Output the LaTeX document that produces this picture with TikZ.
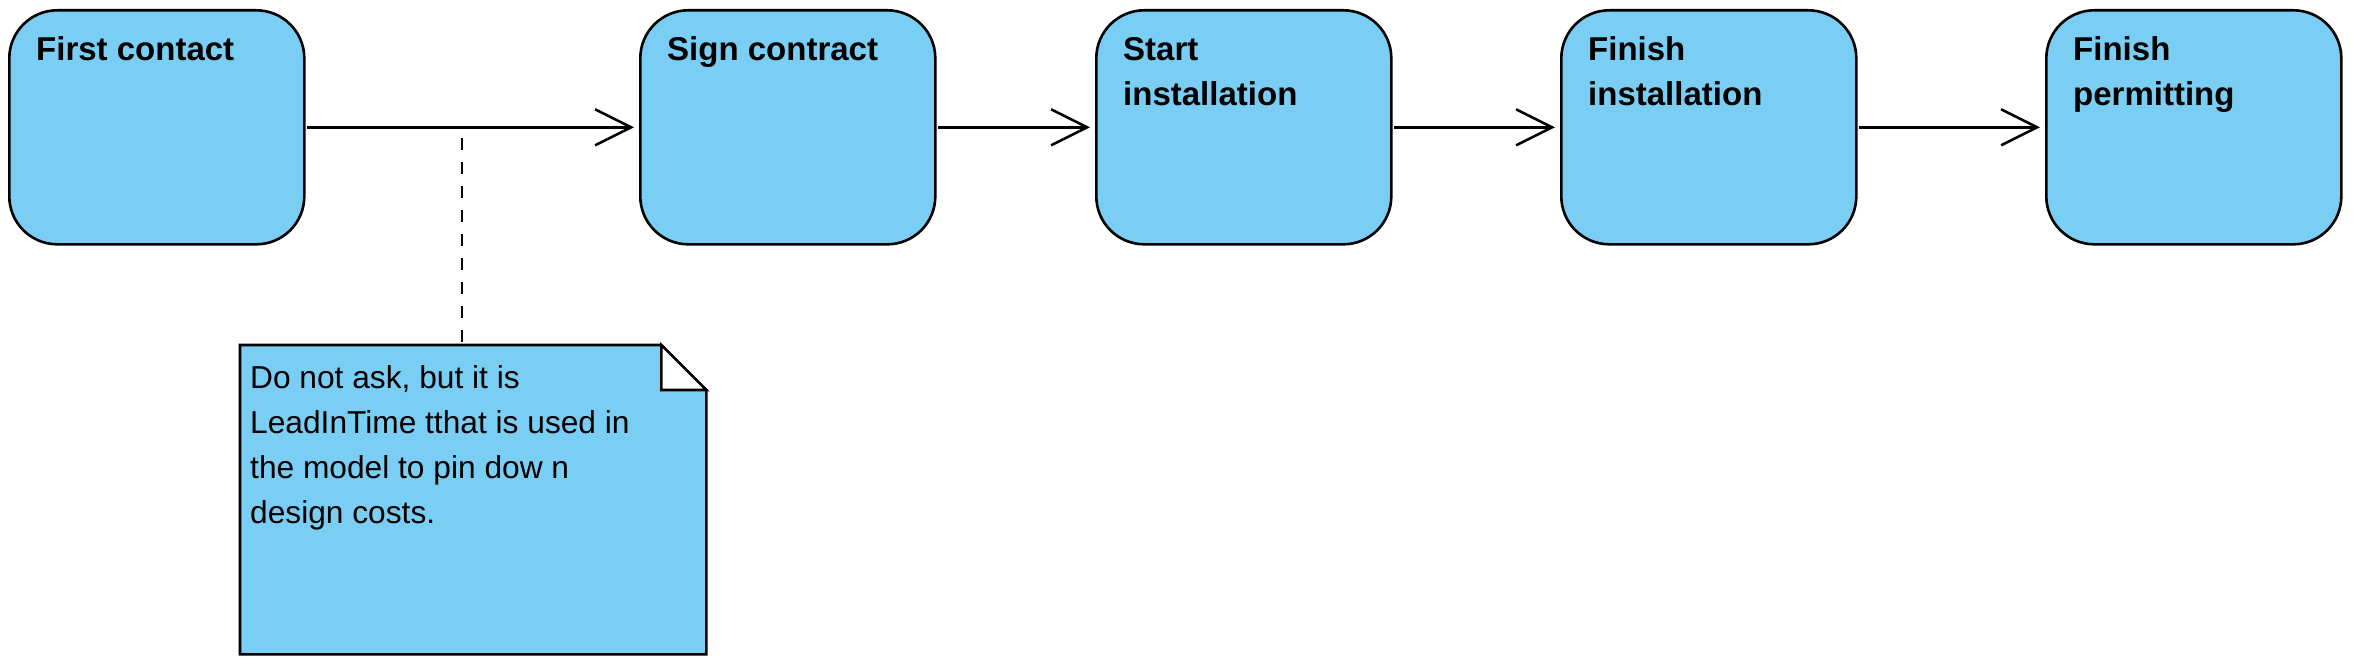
\documentclass[tikz,border=0pt]{standalone}
\usepackage{fontspec}
\setmainfont{Liberation Sans}
\usetikzlibrary{arrows.meta}
\definecolor{boxblue}{RGB}{122,206,244}
\begin{document}
\begin{tikzpicture}[x=1pt,y=-1pt,
  statebox/.style={draw=black, line width=2.6pt, fill=boxblue, rounded corners=48pt, minimum width=295pt, minimum height=234pt, inner sep=0pt, anchor=north west},
  titletext/.style={anchor=north west, inner sep=0pt, align=left, font=\fontsize{33}{45}\selectfont\bfseries},
  flow/.style={line width=2.6pt, -{Straight Barb[length=36pt,width=36pt,line width=2.6pt]}, shorten >=5pt, shorten <=1.5pt},
  notetext/.style={anchor=north west, inner sep=0pt, align=left, font=\fontsize{31.7}{45}\selectfont},
  noteline/.style={line width=2.6pt, line join=miter}
]
\fill[white] (0,0) rectangle (2355,669);
\useasboundingbox (0,0) rectangle (2355,669);

\node[statebox] (b1) at (8,9) {};
\node[statebox] (b2) at (639,9) {};
\node[statebox] (b3) at (1095,9) {};
\node[statebox] (b4) at (1560,9) {};
\node[statebox] (b5) at (2045,9) {};

\node[titletext] (t1) at (36,36) {\rule{0pt}{24pt}First contact};
\node[titletext] (t2) at (667,36) {\rule{0pt}{24pt}Sign contract};
\node[titletext] (t3) at (1123,36) {\rule{0pt}{24pt}Start\\installation};
\node[titletext] (t4) at (1588,36) {\rule{0pt}{24pt}Finish\\installation};
\node[titletext] (t5) at (2073,36) {\rule{0pt}{24pt}Finish\\permitting};

\draw[flow] (b1.east) -- (b2.west);
\draw[flow] (b2.east) -- (b3.west);
\draw[flow] (b3.east) -- (b4.west);
\draw[flow] (b4.east) -- (b5.west);

\node[anchor=north west, minimum width=466pt, minimum height=309pt, inner sep=0pt] (note) at (240,345) {};
\draw[noteline, fill=boxblue] (note.north west) -- ([xshift=-45pt]note.north east) -- ([yshift=-45pt]note.north east) -- (note.south east) -- (note.south west) -- cycle;
\draw[noteline, fill=white] ([xshift=-45pt]note.north east) -- ([xshift=-45pt,yshift=-45pt]note.north east) -- ([yshift=-45pt]note.north east) -- cycle;
\node[notetext] (nt) at (250,365) {\rule{0pt}{23pt}Do not ask, but it is\\LeadInTime tthat is used in\\the model to pin dow n\\design costs.};

\coordinate (lk) at (462,126);
\draw[line width=2.6pt, dash pattern=on 12pt off 12pt, dash phase=12pt] (lk) -- (lk |- note.north);
\end{tikzpicture}
\end{document}
